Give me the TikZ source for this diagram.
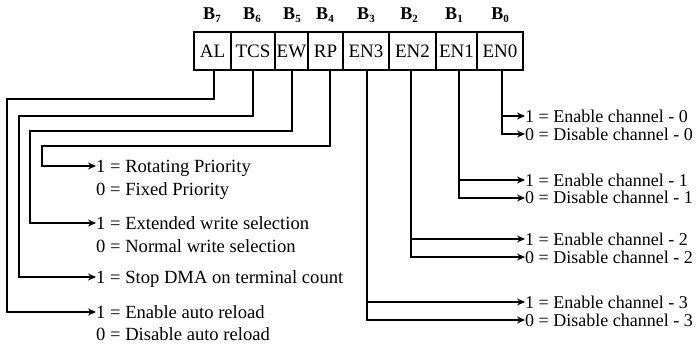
\documentclass[tikz,border=0pt]{standalone}
\usepackage{fontspec}
\setmainfont{Liberation Serif}
\usetikzlibrary{arrows.meta}
\newcommand\bitsub[1]{\raisebox{-0.35ex}{\fontsize{11}{11}\selectfont #1}}
\begin{document}
\begin{tikzpicture}[x=1pt,y=-1pt,
  cell/.style={draw, line width=1.5pt, minimum height=38pt, inner sep=0pt, font=\fontsize{19}{20}\selectfont},
  lbl/.style={anchor=west, inner sep=0pt, text height=12pt, text depth=0pt, font=\fontsize{18.6}{20}\selectfont},
  rlbl/.style={lbl, font=\fontsize{18}{20}\selectfont},
  arr/.style={line width=1.4pt, -{Stealth[length=8pt,width=7pt]}},
  bit/.style={font=\bfseries\fontsize{18}{20}\selectfont, anchor=base, inner sep=0pt}]
\useasboundingbox (0,0) rectangle (697,345);
% register cells
\node[cell, minimum width=37pt] (AL)  at (212.5,51) {AL};
\node[cell, minimum width=44pt] (TCS) at (253,51) {TCS};
\node[cell, minimum width=33pt] (EW)  at (291.5,51) {EW};
\node[cell, minimum width=35pt] (RP)  at (325.5,51) {RP};
\node[cell, minimum width=46pt] (EN3) at (366,51) {EN3};
\node[cell, minimum width=47pt] (EN2) at (412.5,51) {EN2};
\node[cell, minimum width=41pt] (EN1) at (456.5,51) {EN1};
\node[cell, minimum width=46pt] (EN0) at (500,51) {EN0};
% bit labels
\node[bit] (b7) at (212,20) {B\bitsub{7}};
\node[bit] (b6) at (252,20) {B\bitsub{6}};
\node[bit] (b5) at (292,20) {B\bitsub{5}};
\node[bit] (b4) at (325,20) {B\bitsub{4}};
\node[bit] (b3) at (366,20) {B\bitsub{3}};
\node[bit] (b2) at (409,20) {B\bitsub{2}};
\node[bit] (b1) at (454,20) {B\bitsub{1}};
\node[bit] (b0) at (500,20) {B\bitsub{0}};
% left texts
\node[lbl] (tRP1)  at (96,166) {1 = Rotating Priority};
\node[lbl] (tRP0)  at (96,189) {0 = Fixed Priority};
\node[lbl] (tEW1)  at (96,223) {1 = Extended write selection};
\node[lbl] (tEW0)  at (96,246) {0 = Normal write selection};
\node[lbl] (tTCS)  at (96,277) {1 = Stop DMA on terminal count};
\node[lbl] (tAL1)  at (96,312) {1 = Enable auto reload};
\node[lbl] (tAL0)  at (96,334) {0 = Disable auto reload};
% right texts
\node[rlbl] (e0) at (525,116) {1 = Enable channel - 0};
\node[rlbl] (d0) at (525,134) {0 = Disable channel - 0};
\node[rlbl] (e1) at (525,180) {1 = Enable channel - 1};
\node[rlbl] (d1) at (525,198) {0 = Disable channel - 1};
\node[rlbl] (e2) at (525,239) {1 = Enable channel - 2};
\node[rlbl] (d2) at (525,257) {0 = Disable channel - 2};
\node[rlbl] (e3) at (525,302) {1 = Enable channel - 3};
\node[rlbl] (d3) at (525,320) {0 = Disable channel - 3};
% rail coordinates
\coordinate (sAL)  at ([xshift=1.5pt]AL.south);
\coordinate (sTCS) at (TCS.south);
\coordinate (sEW)  at ([xshift=0.5pt]EW.south);
\coordinate (sRP)  at ([xshift=4.5pt]RP.south);
\coordinate (sEN3) at ([xshift=1pt]EN3.south);
\coordinate (sEN2) at ([xshift=-1.5pt]EN2.south);
\coordinate (sEN1) at ([xshift=2.5pt]EN1.south);
\coordinate (sEN0) at ([xshift=2pt]EN0.south);
\coordinate (rAL)  at (7,99);
\coordinate (rTCS) at (19,116);
\coordinate (rEW)  at (30,131);
\coordinate (rRP)  at (42,146);
% left connectors
\draw[arr] (sAL)  |- (rAL)  |- (tAL1.west);
\draw[arr] (sTCS) |- (rTCS) |- (tTCS.west);
\draw[arr] (sEW)  |- (rEW)  |- (tEW1.west);
\draw[arr] (sRP)  |- (rRP)  |- (tRP1.west);
% right connectors
\draw[arr] (sEN0) |- (d0.west);
\draw[arr] (sEN0 |- e0.west) -- (e0.west);
\draw[arr] (sEN1) |- (d1.west);
\draw[arr] (sEN1 |- e1.west) -- (e1.west);
\draw[arr] (sEN2) |- (d2.west);
\draw[arr] (sEN2 |- e2.west) -- (e2.west);
\draw[arr] (sEN3) |- (d3.west);
\draw[arr] (sEN3 |- e3.west) -- (e3.west);
\end{tikzpicture}
\end{document}
